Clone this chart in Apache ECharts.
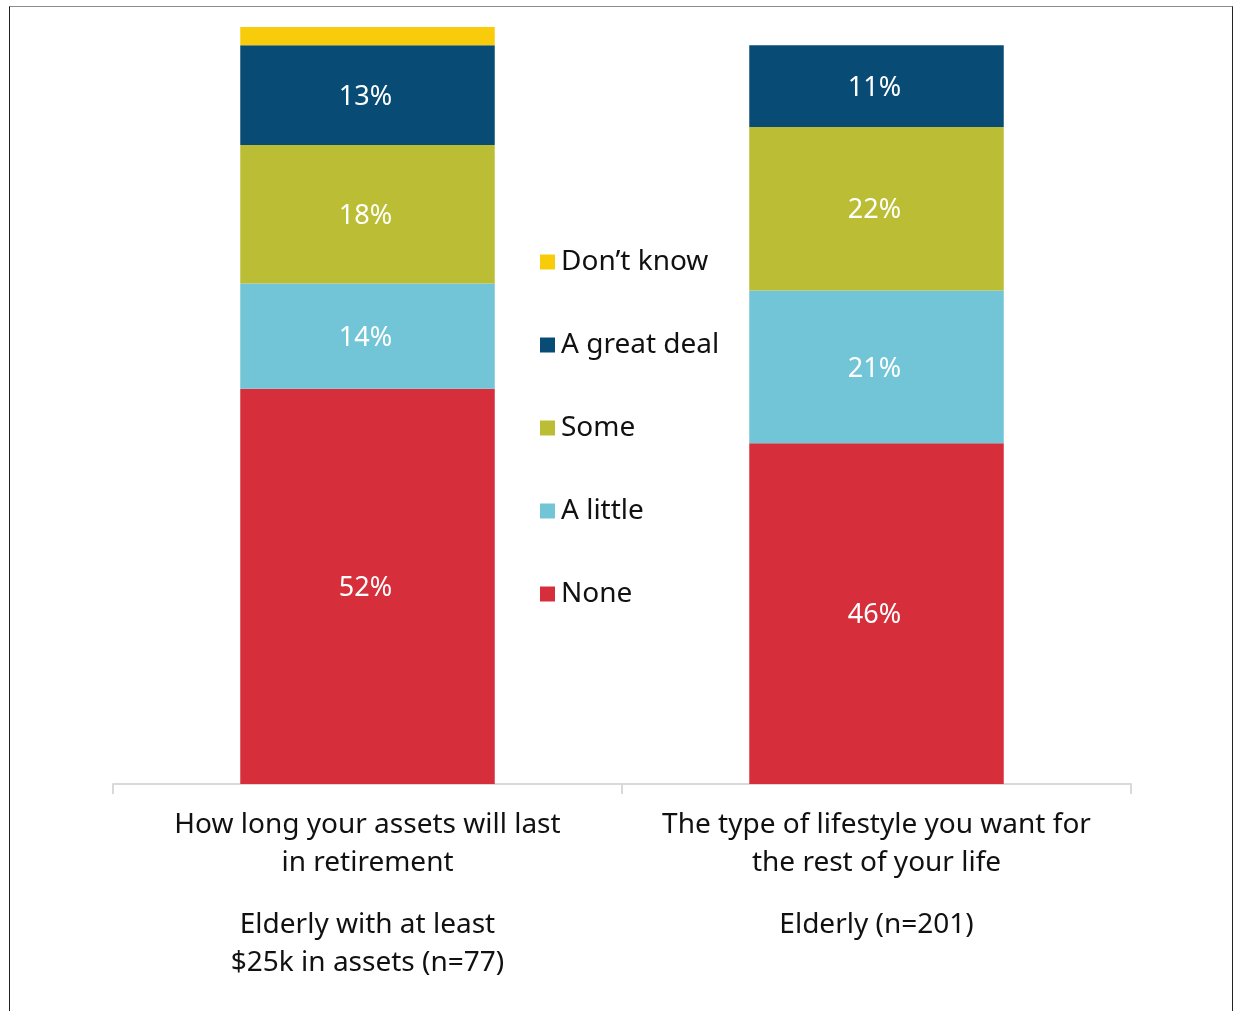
<!DOCTYPE html>
<html>
<head>
<meta charset="utf-8">
<script src="https://cdn.jsdelivr.net/npm/echarts@6/dist/echarts.min.js"></script>
<style>
html,body{margin:0;padding:0;background:#fff;}
#frame{position:absolute;left:9px;top:6px;width:1224px;height:1020px;border-top:1px solid #8c8c8c;border-left:1.5px solid #222;border-right:1.5px solid #222;box-sizing:border-box;}
#chart{position:absolute;left:0;top:0;width:1235px;height:1011px;}
</style>
</head>
<body>
<div id="frame"></div>
<div id="chart"></div>
<script>
var categories = [
  "How long your assets will last\nin retirement",
  "The type of lifestyle you want for\nthe rest of your life"
];
var samples = [
  "Elderly with at least\n$25k in assets (n=77)",
  "Elderly (n=201)"
];
var seriesNames = ["None", "A little", "Some", "A great deal", "Don\u2019t know"];
var noneVals = [52.2, 45.0];
var littleVals = [13.9, 20.2];
var someVals = [18.3, 21.6];
var greatVals = [13.2, 10.8];
var dontKnowVals = [2.4, 0];
var noneLabels = ["52%", "46%"];
var littleLabels = ["14%", "21%"];
var someLabels = ["18%", "22%"];
var greatLabels = ["13%", "11%"];
var dontKnowLabels = ["", ""];
var colors = ["#D62E3A", "#72C5D7", "#BBBE34", "#084B75", "#F9CC0B"];

var FONT = "'Noto Sans', sans-serif";
var chart = echarts.init(document.getElementById('chart'), null, {renderer: 'canvas'});

function mk(name, vals, labels, color) {
  return {
    name: name,
    type: 'bar',
    stack: 'total',
    barWidth: '50%',
    data: vals,
    itemStyle: {color: color},
    label: {
      show: true,
      position: 'inside',
      color: '#fff',
      fontSize: 27,
      fontFamily: FONT,
      offset: [-2, 2],
      formatter: function (p) { return labels[p.dataIndex]; }
    },
    emphasis: {disabled: true}
  };
}

var option = {
  animation: false,
  textStyle: {fontFamily: FONT},
  grid: {left: 113, right: 104, top: 27, bottom: 227, containLabel: false},
  legend: {
    orient: 'vertical',
    left: 535,
    top: 243,
    itemWidth: 15,
    itemHeight: 15,
    itemGap: 55,
    icon: 'rect',
    data: ["Don\u2019t know", "A great deal", "Some", "A little", "None"],
    textStyle: {fontSize: 28, color: '#111', fontFamily: FONT, padding: [0, 0, 0, 1]},
    selectedMode: false
  },
  xAxis: {
    type: 'category',
    data: categories.map(function (c, i) { return c + '\n' + samples[i]; }),
    axisLine: {lineStyle: {color: '#d9d9d9', width: 2}},
    axisTick: {show: true, length: 10, lineStyle: {color: '#d9d9d9', width: 2}},
    axisLabel: {
      margin: 22,
      interval: 0,
      formatter: function (v, i) {
        var c = categories[i].split('\n');
        var s = samples[i].split('\n');
        var out = c.map(function (t) { return '{a|' + t + '}'; });
        out.push('{s| }');
        s.forEach(function (t) { out.push('{a|' + t + '}'); });
        return out.join('\n');
      },
      rich: {
        a: {fontSize: 28, lineHeight: 38, color: '#111', fontFamily: FONT},
        s: {fontSize: 10, lineHeight: 24}
      }
    }
  },
  yAxis: {
    type: 'value',
    min: 0,
    max: 100,
    show: false,
    splitLine: {show: false}
  },
  series: [
    mk(seriesNames[0], noneVals, noneLabels, colors[0]),
    mk(seriesNames[1], littleVals, littleLabels, colors[1]),
    mk(seriesNames[2], someVals, someLabels, colors[2]),
    mk(seriesNames[3], greatVals, greatLabels, colors[3]),
    mk(seriesNames[4], dontKnowVals, dontKnowLabels, colors[4])
  ]
};
chart.setOption(option);
</script>
</body>
</html>
